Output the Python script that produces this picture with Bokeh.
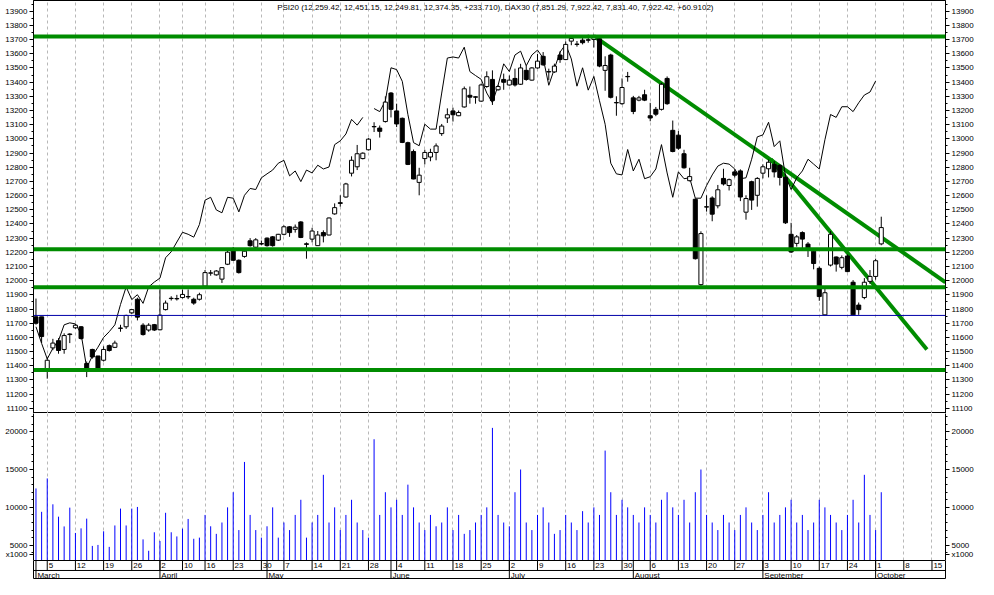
import math
from bokeh.plotting import figure
from bokeh.layouts import column
from bokeh.models import Range1d, LinearAxis, FixedTicker, Span, Label, Grid, ColumnDataSource
from bokeh.embed import file_html
from bokeh.resources import INLINE

NaN = float("nan")

# ---------------- data (trading-day index 0 = 1 March 2007) ----------------
psi_open = [11745, 11745, 11379, 11526, 11577, 11515, 11620, 11668, 11675, 11416,
            11515, 11469, 11439, 11542, 11530, 11666, 11675, 11773, 11869, 11686,
            11652, 11690, 11654, 11796, 11874, 11872, 11881, 11888, 11869, 11869,
            11961, 12053, 12041, 12011, 12116, 12213, 12144, 12171, 12281, 12236,
            12262, 12300, 12309, 12286, 12327, 12380, 12362, 12414, 12260, 12293,
            12247, 12339, 12322, 12471, 12550, 12590, 12758, 12803, 12861, 12923,
            13087, 13076, 13122, 13323, 13197, 13145, 12973, 12911, 12693, 12861,
            12872, 12904, 13037, 13147, 13197, 13163, 13225, 13307, 13296, 13266,
            13369, 13419, 13346, 13419, 13380, 13426, 13385, 13483, 13414, 13500,
            13582, 13474, 13472, 13591, 13559, 13689, 13668, 13696, 13698, 13701,
            13706, 13483, 13591, 13256, 13248, 13440, 13289, 13273, 13311, 13163,
            13208, 13208, 13426, 13060, 13026, 12895, 12705, 12574, 11972, 12521,
            12583, 12528, 12721, 12671, 12767, 12774, 12483, 12698, 12602, 12758,
            12789, 12820, 12813, 12728, 12327, 12263, 12339, 12258, 12208, 12087,
            11759, 12110, 12167, 12094, 12174, 11989, 11828, 11881, 11995, 12030,
            12259.42]
psi_high = [11874, 11745, 11457, 11590, 11595, 11629, 11629, 11695, 11680, 11430,
            11520, 11470, 11537, 11550, 11577, 11689, 11760, 11800, 11880, 11700,
            11700, 11695, 11940, 11860, 11890, 11900, 11938, 11938, 11880, 11915,
            12075, 12075, 12075, 12095, 12215, 12238, 12150, 12210, 12300, 12300,
            12283, 12305, 12315, 12330, 12390, 12385, 12396, 12420, 12270, 12373,
            12350, 12355, 12445, 12545, 12602, 12690, 12877, 12957, 12905, 13005,
            13117, 13094, 13300, 13330, 13248, 13150, 12980, 12925, 12796, 12923,
            12930, 12968, 13105, 13215, 13220, 13200, 13369, 13369, 13300, 13390,
            13476, 13483, 13380, 13460, 13447, 13495, 13529, 13515, 13505, 13598,
            13612, 13495, 13530, 13618, 13687, 13724, 13690, 13721, 13735, 13735,
            13721, 13582, 13600, 13300, 13426, 13472, 13303, 13303, 13346, 13254,
            13225, 13395, 13440, 13129, 13055, 12923, 12796, 12580, 12348, 12602,
            12595, 12675, 12789, 12720, 12785, 12785, 12602, 12705, 12730, 12820,
            12854, 12842, 12820, 12753, 12408, 12322, 12348, 12272, 12224, 12100,
            11950, 12350, 12171, 12178, 12185, 12004, 11846, 12018, 12075, 12155,
            12451.15]
psi_low = [11690, 11560, 11309, 11510, 11485, 11485, 11560, 11660, 11585, 11320,
           11450, 11372, 11430, 11500, 11525, 11640, 11660, 11765, 11720, 11613,
           11640, 11645, 11650, 11790, 11860, 11860, 11875, 11870, 11830, 11860,
           11955, 12035, 12035, 11984, 12110, 12140, 12050, 12162, 12240, 12230,
           12250, 12240, 12240, 12280, 12320, 12309, 12339, 12300, 12155, 12270,
           12245, 12270, 12320, 12465, 12522, 12585, 12735, 12780, 12855, 12918,
           13048, 13009, 13115, 13151, 13083, 12970, 12815, 12715, 12602, 12820,
           12842, 12849, 13021, 13112, 13122, 13160, 13220, 13248, 13248, 13260,
           13360, 13239, 13340, 13346, 13375, 13369, 13380, 13410, 13410, 13495,
           13515, 13414, 13465, 13536, 13555, 13660, 13650, 13666, 13678, 13644,
           13505, 13339, 13285, 13163, 13240, 13403, 13174, 13265, 13266, 13124,
           13160, 13200, 13240, 12905, 12923, 12790, 12700, 12149, 11963, 12487,
           12419, 12510, 12671, 12636, 12728, 12561, 12430, 12499, 12522, 12721,
           12728, 12728, 12671, 12400, 12195, 12240, 12213, 12167, 12080, 11858,
           11755, 12100, 12064, 12080, 12060, 11755, 11759, 11869, 11977, 12007,
           12249.81]
psi_close = [11700, 11606, 11439, 11560, 11508, 11613, 11624, 11686, 11592, 11377,
             11462, 11377, 11515, 11508, 11560, 11664, 11755, 11796, 11743, 11620,
             11686, 11652, 11757, 11842, 11876, 11874, 11903, 11886, 11842, 11901,
             12057, 12055, 12068, 12092, 12201, 12144, 12057, 12208, 12247, 12288,
             12258, 12247, 12247, 12327, 12380, 12339, 12377, 12305, 12256, 12350,
             12322, 12316, 12442, 12515, 12545, 12682, 12849, 12895, 12899, 12998,
             13085, 13053, 13259, 13208, 13105, 12975, 12820, 12717, 12744, 12904,
             12904, 12950, 13090, 13170, 13170, 13186, 13353, 13294, 13294, 13380,
             13438, 13270, 13369, 13399, 13414, 13380, 13500, 13419, 13500, 13548,
             13522, 13472, 13513, 13559, 13666, 13708, 13666, 13678, 13696, 13719,
             13513, 13517, 13293, 13254, 13362, 13438, 13193, 13289, 13273, 13147,
             13174, 13385, 13248, 12911, 12934, 12796, 12734, 12155, 12332, 12519,
             12469, 12641, 12682, 12712, 12744, 12590, 12579, 12568, 12721, 12803,
             12835, 12767, 12728, 12408, 12202, 12309, 12293, 12224, 12121, 11888,
             11915, 12327, 12117, 12162, 12064, 11759, 11796, 11989, 12030, 12140.64,
             12374.35]
dax_close = [6560, 6468, 6382, 6441, 6484, 6571, 6582, 6576, 6522, 6333,
             6398, 6447, 6501, 6533, 6571, 6684, 6781, 6711, 6738, 6690,
             6781, 6808, 6830, 6943, 6976, 7030, 7084, 7073, 7057, 7127,
             7262, 7278, 7208, 7192, 7278, 7273, 7197, 7289, 7327, 7321,
             7386, 7408, 7429, 7467, 7483, 7397, 7424, 7365, 7429, 7413,
             7456, 7435, 7446, 7570, 7591, 7629, 7710, 7678, 7721, NaN,
             7770, 7753, 7813, 7996, 7986, 7921, 7737, 7581, 7564, 7683,
             7656, 7656, 7856, 8050, 8056, 8050, 8110, 7975, 7953, 7932,
             7856, 7802, 7899, 8018, 7975, 8067, 8088, 8007, 8067, 8094,
             8050, 7899, 7991, 8083, 8126, 8045, 7894, 7996, 7872, 7948,
             7813, 7683, 7467, 7408, 7402, 7543, 7424, 7489, 7381, 7392,
             7435, 7570, 7413, 7278, 7419, 7381, 7386, 7273, 7273, 7343,
             7402, 7451, 7467, 7462, 7435, 7381, 7386, 7489, 7613, 7624,
             7694, 7559, 7591, 7397, 7321, 7386, 7424, 7489, 7462, 7435,
             7597, 7737, 7721, 7780, 7780, 7753, 7802, 7845, 7861.51, 7922.42]
volume = [12500, 9412, 13825, 10403, 8769, 7482, 9965, 6620, 7225, 8512,
          4908, 5037, 6839, 4780, 7610, 9837, 7610, 9837, 10055, 5770,
          4265, 6710, 5550, 9284, 6710, 6160, 7186, 8470, 5850, 6000,
          9000, 7500, 6500, 8000, 10000, 12000, 7000, 16000, 9000, 7000,
          6000, 7500, 10000, 6000, 8000, 7000, 9000, 11000, 6000, 8000,
          9000, 14300, 8000, 10000, 7000, 9000, 11000, 8000, 7000, 6000,
          19000, 9000, 12000, 10000, 11000, 9000, 13000, 10000, 8000, 7000,
          9000, 7500, 8000, 10000, 7000, 9000, 6500, 7000, 8000, 9000,
          10000, 20500, 9000, 8000, 7500, 12000, 15000, 8000, 7000, 9000,
          10000, 8000, 6500, 7000, 9000, 8000, 7000, 9500, 8000, 10000,
          9000, 17500, 12000, 9000, 11000, 10000, 9000, 8000, 10000, 9000,
          8000, 11000, 12000, 10000, 9000, 11000, 8000, 12000, 15000, 9000,
          8000, 7000, 9000, 8000, 7000, 9000, 10000, 8000, 7000, 9000,
          12000, 8000, 9000, 10000, 11000, 8000, 9000, 7000, 8000, 11000,
          10000, 9000, 8000, 7000, 9000, 11000, 8000, 14300, 9000, 7000,
          12000]
week_ticks = [2, 7, 12, 17, 22, 26, 30, 35, 40, 44, 49, 54, 59, 64, 69, 74, 79,
              84, 89, 94, 99, 104, 109, 114, 119, 124, 129, 134, 139, 144, 149, 154, 159]
week_labels = ["5", "12", "19", "26", "2", "10", "16", "23", "30", "7", "14", "21", "28",
               "4", "11", "18", "25", "2", "9", "16", "23", "30", "6", "13", "20", "27",
               "3", "10", "17", "24", "1", "8", "15"]
month_starts = [0, 22, 41, 63, 84, 106, 129, 149]
month_names = ["March", "April", "May", "June", "July", "August", "September", "October"]
price_ticks = list(range(11100, 14000, 100))
price_minor = list(range(11050, 14000, 50))
vol_ticks = [3750, 5000, 10000, 15000, 20000]
vol_minor = list(range(3000, 23000, 1000))
vol_unit_label = "x1000"
support_levels = [13721, 12222, 11954, 11370]
blue_level = 11755
trend_a_x = [99, 161.4]
trend_a_y = [13725, 11989]
trend_b_x = [130.4, 158.1]
trend_b_y = [12856, 11515]
title_text = ("PSI20 (12,259.42, 12,451.15, 12,249.81, 12,374.35, +233.710), "
              "DAX30 (7,851.29, 7,922.42, 7,831.40, 7,922.42, +60.9102)")

# ---------------- styling ----------------
FONT = "Liberation Sans"
FS = "8px"
GREEN = "#008c00"
W = 978
LB, RB = 33, 33
n = len(psi_close)
idx = list(range(n))
xr = Range1d(-0.44, 161.4)


def add_axes(fig, ticks, minor, overrides=None):
    for side in ("left", "right"):
        ax = LinearAxis(ticker=FixedTicker(ticks=ticks, minor_ticks=minor))
        ax.major_tick_out = 4
        ax.major_tick_in = 0
        ax.minor_tick_out = 2
        ax.minor_tick_in = 0
        ax.major_label_standoff = 2
        ax.major_label_text_font = FONT
        ax.major_label_text_font_size = FS
        ax.major_label_text_color = "black"
        ax.axis_line_color = "black"
        ax.major_tick_line_color = "black"
        ax.minor_tick_line_color = "black"
        if overrides:
            ax.major_label_overrides = overrides
        fig.add_layout(ax, side)


def base_fig(h, yr):
    f = figure(width=W, height=h, x_range=xr, y_range=yr, output_backend="svg",
               toolbar_location=None, x_axis_location=None, y_axis_location=None,
               min_border_left=LB, min_border_right=RB, min_border_top=0, min_border_bottom=0)
    f.xgrid.grid_line_color = None
    f.ygrid.grid_line_color = None
    f.outline_line_color = "black"
    f.outline_line_width = 1
    f.background_fill_color = "white"
    f.border_fill_color = "white"
    return f


def add_week_grid(fig):
    fig.add_layout(Grid(dimension=0, ticker=FixedTicker(ticks=week_ticks),
                        grid_line_color="#b8b8b8", grid_line_dash="3 3", grid_line_width=1))


# ---------------- price panel ----------------
p = base_fig(413, Range1d(11063.5, 13975.5))
p.extra_y_ranges = {"dax": Range1d(6079.4, 8369.0)}
add_week_grid(p)
add_axes(p, price_ticks, price_minor)

for lvl in support_levels:
    p.add_layout(Span(location=lvl, dimension="width", line_color=GREEN, line_width=4))
p.add_layout(Span(location=blue_level, dimension="width", line_color="#0000a8", line_width=1))

p.line(trend_a_x, trend_a_y, line_color=GREEN, line_width=4)
p.line(trend_b_x, trend_b_y, line_color=GREEN, line_width=4)

p.line(idx[:len(dax_close)], dax_close, y_range_name="dax", line_color="black", line_width=1)

src = ColumnDataSource(dict(
    x=idx, o=psi_open, h=psi_high, l=psi_low, c=psi_close,
    top=[max(a, b) for a, b in zip(psi_open, psi_close)],
    bot=[min(a, b) for a, b in zip(psi_open, psi_close)],
    fill=["white" if c >= o else "black" for o, c in zip(psi_open, psi_close)],
))
p.segment(x0="x", y0="l", x1="x", y1="h", source=src, line_color="black", line_width=1)
p.vbar(x="x", width=0.72, top="top", bottom="bot", source=src,
       fill_color="fill", line_color="black", line_width=1)

p.add_layout(Label(x=42.8, y=13927, text=title_text, text_font=FONT, text_font_size=FS,
                   text_baseline="middle", text_align="left", text_color="black"))

# ---------------- volume panel ----------------
v = base_fig(147, Range1d(2980, 22400))
v.outline_line_color = None
add_week_grid(v)
add_axes(v, vol_ticks, vol_minor, overrides={3750: vol_unit_label})
v.segment(x0=idx, y0=[0] * n, x1=idx, y1=volume, line_color="#0000ff", line_width=1)

# ---------------- date axis ----------------
d = base_fig(19, Range1d(0, 2))
d.add_layout(Span(location=0.95, dimension="width", line_color="black", line_width=1))
d.segment(x0=week_ticks, y0=[0.95] * len(week_ticks), x1=week_ticks, y1=[2] * len(week_ticks),
          line_color="black", line_width=1)
d.segment(x0=month_starts, y0=[0] * len(month_starts), x1=month_starts, y1=[2] * len(month_starts),
          line_color="black", line_width=1)
d.text(x=[t + 0.25 for t in week_ticks], y=[1.47] * len(week_ticks), text=week_labels,
       text_font={"value": FONT}, text_font_size={"value": FS}, text_baseline="middle",
       text_align="left", text_color="black")
d.text(x=[m + 0.25 for m in month_starts], y=[0.45] * len(month_starts), text=month_names,
       text_font={"value": FONT}, text_font_size={"value": FS}, text_baseline="middle",
       text_align="left", text_color="black")

layout = column(p, v, d, spacing=0)
open("out.html", "w").write(file_html(layout, INLINE))
